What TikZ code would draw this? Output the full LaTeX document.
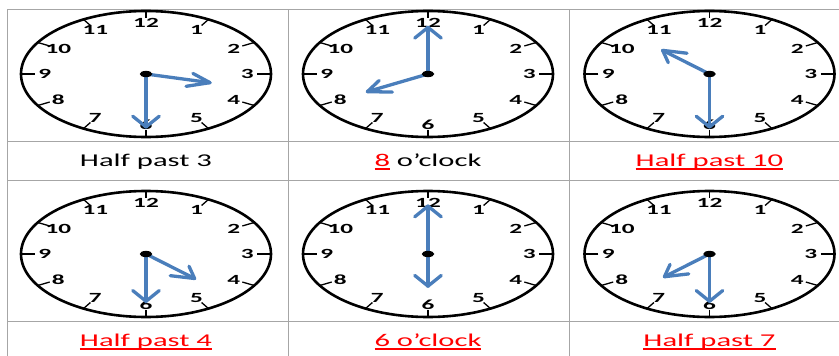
\documentclass[tikz,border=0pt]{standalone}
\usepackage{fontspec}
\usepackage{tikz}
\newfontfamily\numfont[FakeStretch=1.8]{Carlito}
\newfontfamily\lblfont[FakeStretch=1.7]{Carlito}
\definecolor{handblue}{RGB}{74,126,187}
\definecolor{gridgrey}{RGB}{166,166,166}
\definecolor{answerred}{RGB}{255,0,0}
\newcommand\answer[1]{{\color{answerred}\setbox0\hbox{#1}\rlap{\rule[-3pt]{\wd0}{1.3pt}}\box0}}
\tikzset{
  gridline/.style={draw=gridgrey, line width=0.8pt},
  face/.style={draw=black, line width=2.6pt},
  tick/.style={draw=black, line width=1.3pt},
  num/.style={font=\numfont\bfseries\fontsize{14}{14}\selectfont, inner sep=0pt},
  hand/.style={draw=handblue, line width=3.3pt, line cap=round, line join=round},
  caption/.style={font=\lblfont\fontsize{18}{18}\selectfont, inner sep=0pt, anchor=base},
}

\begin{document}
\begin{tikzpicture}[x=1pt,y=-1pt]
  \fill[white] (0,0) rectangle (839,356);
  \useasboundingbox (0,0) rectangle (839,356);
  % table
  \foreach \x in {7,288,569} \draw[gridline] (\x,9) -- (\x,356);
  \foreach \y in {9,141,180,321} \draw[gridline] (7,\y) -- (839,\y);
  % clocks: name/x/y/hour angle/hour length/minute angle/minute length
  \foreach \n/\cx/\cy/\ha/\hl/\ma/\ml in {1/146/74/-15/0.53/-90/0.84, 2/428/74/-150/0.56/90/0.74, 3/709.5/74/135/0.53/-90/0.84, 4/146/254/-45/0.55/-90/0.75, 5/428/254/-90/0.51/90/0.76, 6/709.5/254/-135/0.51/-90/0.75}{
    \begin{scope}[shift={(\cx,\cy)}, x=125pt, y=63pt]
      \coordinate (c\n) at (0,0);
      \draw[face] (c\n) circle[radius=1];
      \foreach \i in {1,...,12}{
        \draw[tick] (90-30*\i:0.89) -- (90-30*\i:1);
        \node[num] (c\n-\i) at (90-30*\i:0.81) {\i};
      }
      \draw[hand] (c\n) -- (\ha:\hl) coordinate (c\n-hr);
      \draw[hand] (c\n-hr) ++(\ha+148:0.2) -- (c\n-hr) -- ++(\ha-148:0.2);
      \draw[hand] (c\n) -- (\ma:\ml) coordinate (c\n-mn);
      \draw[hand] (c\n-mn) ++(\ma+148:0.2) -- (c\n-mn) -- ++(\ma-148:0.2);
      \fill (c\n) circle[radius=0.05];
    \end{scope}
  }
  % captions
  \node[caption] (t1) at (146,166.5) {Half past 3};
  \node[caption] (t2) at (428,166.5) {\answer{8} o’clock};
  \node[caption] (t3) at (709.5,166.5) {\answer{Half past 10}};
  \node[caption] (t4) at (146,346.5) {\answer{Half past 4}};
  \node[caption] (t5) at (428,346.5) {\answer{6 o’clock}};
  \node[caption] (t6) at (709.5,346.5) {\answer{Half past 7}};
\end{tikzpicture}
\end{document}
